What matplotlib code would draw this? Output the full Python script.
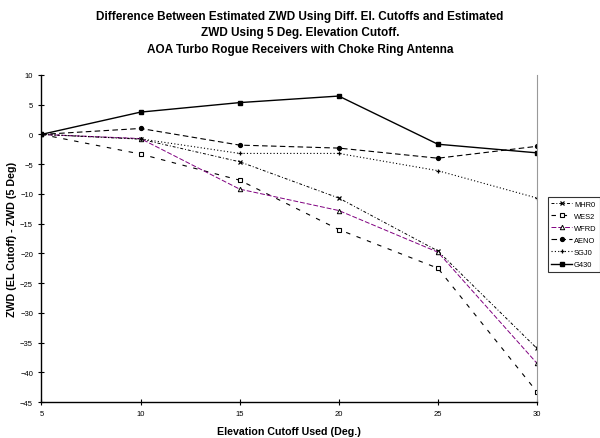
import matplotlib
matplotlib.use("Agg")
import matplotlib.pyplot as plt

plt.rcParams['font.family'] = ['Liberation Sans', 'DejaVu Sans']

elev = [5, 10, 15, 20, 25, 30]
mhr0 = [0, -0.8, -4.6, -10.7, -19.6, -36.0]
wes2 = [0, -3.3, -7.7, -16.0, -22.5, -43.3]
wfrd = [0, -0.7, -9.2, -12.8, -19.8, -38.5]
aeno = [0, 1.0, -1.8, -2.3, -4.0, -2.0]
sgj0 = [0, -0.75, -3.2, -3.2, -6.1, -10.7]
g430 = [0, 3.75, 5.35, 6.45, -1.65, -3.1]

title = ("Difference Between Estimated ZWD Using Diff. El. Cutoffs and Estimated\n"
         "ZWD Using 5 Deg. Elevation Cutoff.\n"
         "AOA Turbo Rogue Receivers with Choke Ring Antenna")

fig = plt.figure(figsize=(6.0, 4.39), dpi=100)
ax = fig.add_axes([0.069, 0.082, 0.826, 0.745])

ax.plot(elev, mhr0, color='black', linestyle=(0, (3, 2, 1, 2)), linewidth=0.7,
        marker='x', markersize=3, markeredgewidth=0.9, label='MHR0')
ax.plot(elev, wes2, color='black', linestyle=(0, (4, 6)), linewidth=0.8,
        marker='s', markersize=3.2, markerfacecolor='white', markeredgewidth=0.8, label='WES2')
ax.plot(elev, wfrd, color='#800080', linestyle=(0, (5, 2)), linewidth=0.7,
        marker='^', markersize=3.2, markerfacecolor='white', markeredgecolor='black',
        markeredgewidth=0.7, label='WFRD')
ax.plot(elev, aeno, color='black', linestyle=(0, (5, 3)), linewidth=0.8,
        marker='o', markersize=2.8, label='AENO')
ax.plot(elev, sgj0, color='black', linestyle=(0, (1, 2)), linewidth=0.8,
        marker='+', markersize=3.5, markeredgewidth=0.9, label='SGJ0')
ax.plot(elev, g430, color='black', linestyle='-', linewidth=1.0,
        marker='s', markersize=3.5, label='G430')

ax.set_xlim(5, 30)
ax.set_ylim(-45, 10)
ax.set_xticks(elev)
ax.set_yticks(range(-45, 11, 5))
ax.tick_params(axis='both', labelsize=5.5, direction='inout', length=5, width=0.8)
ax.spines['top'].set_visible(False)
ax.spines['right'].set_color('#999999')
ax.spines['left'].set_linewidth(1.0)
ax.spines['bottom'].set_linewidth(1.0)

ax.set_xlabel('Elevation Cutoff Used (Deg.)', fontsize=7.7, fontweight='bold', labelpad=6)
ax.set_ylabel('ZWD (EL Cutoff) - ZWD (5 Deg)', fontsize=7.7, fontweight='bold', labelpad=2)

fig.text(0.5, 0.975, title, ha='center', va='top', fontsize=8.5, fontweight='bold',
         linespacing=1.5)

leg = fig.legend(loc='upper left', bbox_to_anchor=(0.913, 0.549), fontsize=5.4,
                 frameon=True, fancybox=False, edgecolor='black', handlelength=2.8,
                 borderpad=0.45, labelspacing=0.65, handletextpad=0.25, borderaxespad=0)
leg.get_frame().set_linewidth(0.8)

fig.savefig('out.png', dpi=100)
